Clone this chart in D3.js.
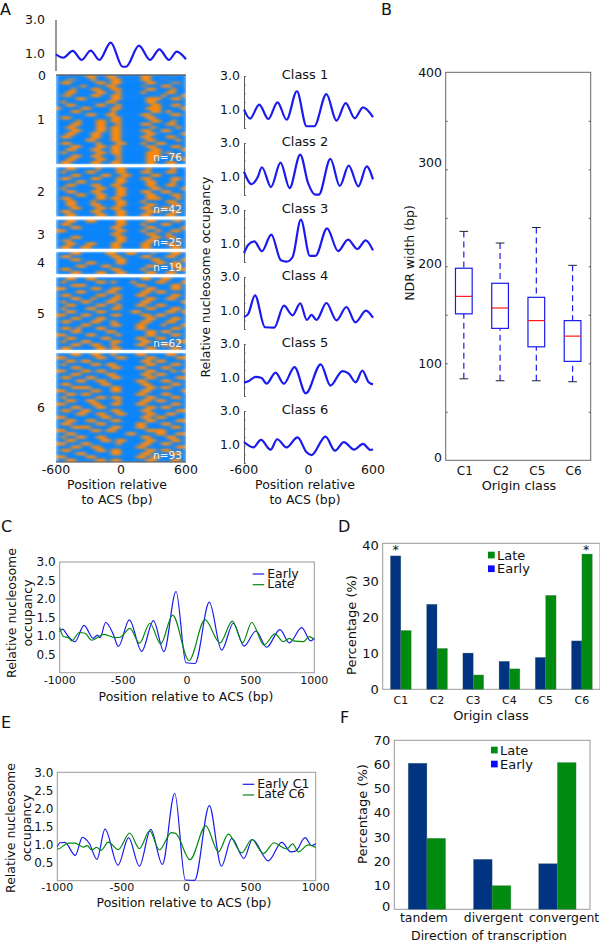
<!DOCTYPE html>
<html>
<head>
<meta charset="utf-8">
<script src="https://cdnjs.cloudflare.com/ajax/libs/d3/7.8.5/d3.min.js"></script>
<style>
  body { margin: 0; background: #fff; }
  text { font-family: "DejaVu Sans", sans-serif; fill: #111; }
</style>
</head>
<body>
<script>
// panel A, top average curve and the six class curves (position in bp, relative occupancy)
const topX = [-600,-532,-446,-363,-280,-200,-95,15,46,166,268,354,443,514,600];
const topY = [0.98,0.78,1.18,0.65,1.2,0.65,1.67,0.25,0.25,1.49,0.65,1.27,0.65,1.14,0.69];

const class1X = [-600,-544,-458,-374,-288,-204,-108,-18,53,167,260,346,430,507,600];
const class1Y = [1.06,0.54,1.35,0.52,1.48,0.48,2.12,0.1,0.1,1.96,0.42,1.44,0.56,1.19,0.63];
const class2X = [-600,-529,-473,-433,-349,-260,-176,-77,-3,63,96,204,291,374,464,541,600];
const class2Y = [1.35,0.62,1.02,1.6,0.46,1.87,0.4,2.33,0.67,0.02,0.02,2.08,0.52,1.69,0.5,1.65,0.9];
const class3X = [-600,-560,-504,-433,-346,-257,-204,-148,-71,13,65,173,275,368,455,532,600];
const class3Y = [0.52,1,1.19,0.62,1.58,0.1,0.02,0.29,2.44,0.35,0.35,1.94,0.63,1.29,0.75,1.25,0.67];
const class4X = [-600,-560,-498,-405,-319,-229,-148,-77,-15,28,74,167,260,353,436,535,600];
const class4Y = [0.69,0.88,1.94,0.1,0.08,1.35,0.79,1.48,0.52,0.81,0.52,1.5,0.5,1.27,0.38,1.06,0.65];
const class5X = [-600,-560,-492,-436,-390,-306,-229,-130,-25,114,204,315,374,439,501,560,600];
const class5Y = [0.77,0.85,1.1,1.04,0.71,1.35,0.71,1.67,0.15,1.83,0.6,1.44,1.29,0.79,1.46,0.79,0.67];
const class6X = [-600,-513,-442,-353,-291,-204,-102,-18,28,158,247,328,424,507,578,600];
const class6Y = [1.21,0.9,1.33,0.77,1.37,0.9,1.48,0.62,0.46,1.52,0.71,1.21,0.77,1.1,0.75,0.79];

// panel A heatmap, one string per row, one digit per column (0 = depleted, 4 = occupied)
const heat1 = [
"00000044003300000440000100","00220003001440000330011000","04400000440330000044000220",
"00001300004400000200033001","00030004400440000033000400","00440000330030000400004400",
"02400004400440000001040003","00003300000330000044300440","04000001004400000033000000",
"00330000330030000004400330","30000440000440000044400004","00044000000300000003303000",
"00000033004400000440000440","04400000000330000033000000","00004000440440000004400300",
"00044000440040000330004400","00440000330440000004000040","00044000440440000440033000",
"00340003300330000033000004","03300004400440000330004400","00000033000440000044000030",
"04400000300033000400330000","00033000440440000044000440","00440003300330000004400003",
"03000000440440000044403000","00033003300030000044400330","00440000440040000033000004",
"03300004400330000044004400"];
const heat2 = [
"00330000400044000040000300","04000044000033000330004400","00044000033004400004400000",
"03300004400044000440000330","00004400000033000033000400","00440003300440000044004400",
"04000000440033000003300003","00330004400044000440033000","00004400330033000033000440",
"03300000440440000044400030","00440004000033000400004400","00330003300044000044000330",
"00044000440440000330033000","03300004400033000044400440","00440000440044000330003300"];
const heat3 = [
"00330044000033000044000230","04400000000044000300033000","00033000000330000033000004",
"33000000000044000400300440","00000000000440000044003000","00044000000033000003304400",
"02300000000044000033000030","00440044000330000440003300","03300440000440000440000340"];
const heat4 = [
"00033000003300440002000440","03300000000440000330003300","00044000000033000004400003",
"00000044000033000000440330","00003300033000000033000440","04400000000440000300000033",
"00033000440033000044003300"];
const heat5 = [
"00330044000000000440033000","04000000330300030000440003","00044300000000004400000330",
"33000004400440000033000440","00003300003300000440330000","04400000440030003300000440",
"00033004000440000044003300","03000440003300000330000003","00440000330030003300440000",
"03000033000440000044000330","00330000440000033000003304","44000330000330000440330000",
"00044000330000000033000440","03300004400300000440004400","00000440000330004400030003",
"04403000330000003300000440","00033000004400000044033000","33000044000030000033000330",
"00440000033000004400440000","04000330000440000330000044","00033004400300003300033000",
"03300000440440000044000330"];
const heat6 = [
"00033004400300003300003300","33000000330044000044000044","00440330000000000330330000",
"04000004403300000044000330","00033000000440003300044000","33000440330000000033000303",
"00044000004400000440330000","04400033000330000044000044","00003300440000003300033000",
"03300000033000000440000330","00044330000440000033044000","44000004400330000330000003",
"00330440000000004400033000","03000000330440000033000440","00440033000030000440330000",
"33000004400440003300000330","00033000330000000044033000","04400330000440000330000044",
"00003300440033000044003300","33000000033000000330440000","00440044000440000033000033",
"03300000330000004400033000","00033440000330003300000440","44000003304400000044330000",
"00330000000000330000440033","03003300440000000330003300","00440000033044000044000440",
"33000440000030000330033000","00033004400000004400000033","04400000330440000033044000",
"00003300000330000440000330","33000044000000004403300000","00330000440330000033000440"];
const heatRows = [heat1, heat2, heat3, heat4, heat5, heat6];
const classN = [76, 42, 25, 19, 62, 93];

// panel B box plots
const boxCats = ["C1", "C2", "C5", "C6"];
const boxHigh = [236, 224, 240, 201];
const boxQ3 = [198, 182.5, 168, 144];
const boxMed = [169, 157, 144, 128];
const boxQ1 = [151, 136, 117, 102];
const boxLow = [84, 82, 82, 81];

// panel C
const cX1 = [-1000,-979,-932,-880,-809,-736,-704,-683,-639,-579,-539,-453,-356,-264,-181,-86,-8,63,175,272,364,448,542,626,730,804,901,971,1000];
const cEarly = [1.11,1.18,0.98,0.84,1.28,0.93,1.02,0.95,1.36,1.04,0.71,1.43,0.58,1.41,0.57,2.2,0.27,0.25,1.91,0.61,1.34,0.72,1.13,0.69,1.17,0.81,1.22,0.86,0.93];
const cX2 = [-1000,-971,-932,-906,-846,-801,-749,-652,-565,-526,-448,-374,-291,-207,-113,16,141,259,356,437,508,605,691,757,804,835,914,961,1000];
const cLate = [1.22,0.98,0.95,0.86,1.09,1.07,0.88,1.04,0.95,0.96,1.2,0.8,1.34,0.78,1.56,0.33,1.44,0.81,1.4,0.81,1.36,0.75,1.05,0.84,0.93,0.86,0.84,0.98,0.9];

// panel D
const dCats = ["C1", "C2", "C3", "C4", "C5", "C6"];
const dEarly = [37.2, 23.7, 10.1, 7.8, 8.9, 13.5];
const dLate = [16.4, 11.4, 4, 5.7, 26.2, 37.7];

// panel E
const eX1 = [-1000,-979,-941,-861,-806,-752,-693,-631,-530,-448,-365,-277,-187,-91,-9,63,177,270,350,445,510,634,737,807,845,918,969,1000];
const eEarly = [0.94,1.05,1.06,0.7,1.2,1.03,0.59,1.43,0.43,1.19,0.4,1.42,0.45,2.42,0.02,0.01,2.08,0.4,1.17,0.62,1.14,0.55,1.06,0.8,0.82,1.19,0.97,1.02];
const eX2 = [-1000,-979,-915,-863,-799,-768,-734,-695,-662,-605,-528,-440,-365,-285,-210,-117,-84,27,149,247,324,427,505,595,678,750,776,822,866,943,1000];
const eLate = [0.87,0.9,1.04,1.04,0.93,0.97,0.85,0.92,0.84,1.07,0.86,1.32,0.89,1.38,0.85,1.33,1.31,0.58,1.52,0.8,1.29,0.77,1.14,0.75,1.05,0.91,0.88,1.02,0.8,0.99,0.92];

// panel F
const fCats = ["tandem", "divergent", "convergent"];
const fEarly = [60.5, 20.7, 18.9];
const fLate = [29.4, 9.8, 60.8];

const BLUE = "#1a1aee";
const NAVY = "#003380";
const GREEN = "#008a10";

const svg = d3.select("body").append("svg")
    .attr("width", 600)
    .attr("height", 942);

function label(x, y, s, size, anchor, rotate) {
    const t = svg.append("text")
        .attr("x", x)
        .attr("y", y)
        .attr("dy", "0.36em")
        .attr("font-size", size)
        .attr("text-anchor", anchor || "middle")
        .text(s);
    if (rotate) t.attr("transform", `rotate(-90 ${x} ${y})`);
    return t;
}

function curve(x, y, xs, ys, color, width) {
    const line = d3.line()
        .x((d, i) => x(xs[i]))
        .y(d => y(d))
        .curve(d3.curveMonotoneX);
    svg.append("path")
        .attr("d", line(ys))
        .attr("fill", "none")
        .attr("stroke", color)
        .attr("stroke-width", width)
        .attr("stroke-linejoin", "round");
}

function frame(x0, x1, y0, y1, color) {
    svg.append("rect")
        .attr("x", x0).attr("y", y0)
        .attr("width", x1 - x0).attr("height", y1 - y0)
        .attr("fill", "none")
        .attr("stroke", color)
        .attr("stroke-width", 1);
}

function styleAxis(g, color) {
    g.selectAll(".domain").remove();
    g.selectAll("line").attr("stroke", color || "#555");
}

// panel letters
label(0, 9, "A", 16, "start");
label(381, 9, "B", 16, "start");
label(1, 526, "C", 16, "start");
label(338, 526, "D", 16, "start");
label(1, 722, "E", 16, "start");
label(340, 717, "F", 16, "start");

// ---- panel A, average curve ----
const xA = d3.scaleLinear().domain([-600, 600]).range([56, 186]);
const yTop = d3.scaleLinear().domain([0, 3]).range([71, 20]);

svg.append("line").attr("x1", 56).attr("x2", 56).attr("y1", 20).attr("y2", 71)
    .attr("stroke", "#777").attr("stroke-width", 1.5);
[3, 1].forEach(v => label(45, yTop(v) - 1, v.toFixed(1), 12.5, "end"));
curve(xA, yTop, topX, topY, BLUE, 2.2);

// ---- panel A, heatmap ----
const heatColor = d3.scaleLinear().domain([0, 1, 2, 3, 4])
    .range(["#0a84fa", "#2f86d8", "#8f8a7c", "#ff8a10", "#ff8804"]);
const heatTop = 75, heatBottom = 462;
const gapRows = 2.6;
const rowTotal = d3.sum(classN) + gapRows * (classN.length - 1);
const yHeat = d3.scaleLinear().domain([0, rowTotal]).range([heatTop, heatBottom]);
const colScale = d3.scaleBand().domain(d3.range(26)).range([xA(-600), xA(600)]);

const defs = svg.append("defs");
defs.append("filter").attr("id", "smear")
    .attr("color-interpolation-filters", "sRGB")
    .attr("x", "-2%").attr("y", "-2%").attr("width", "104%").attr("height", "104%")
    .append("feGaussianBlur").attr("stdDeviation", "2 0.8");
defs.append("clipPath").attr("id", "heatClip").append("rect")
    .attr("x", xA(-600)).attr("y", heatTop)
    .attr("width", xA(600) - xA(-600)).attr("height", heatBottom - heatTop);

const heatG = svg.append("g").attr("clip-path", "url(#heatClip)")
    .append("g").attr("filter", "url(#smear)");

let cum = 0;
const bands = [];
heatRows.forEach((rows, c) => {
    const start = cum;
    const end = cum + classN[c];
    const yRow = d3.scaleBand().domain(d3.range(rows.length)).range([yHeat(start), yHeat(end)]);
    rows.forEach((row, r) => {
        heatG.selectAll(null)
            .data(row.padEnd(26, "0").slice(0, 26).split(""))
            .enter()
            .append("rect")
                .attr("x", (d, j) => colScale(j))
                .attr("y", yRow(r))
                .attr("width", colScale.bandwidth() + 0.5)
                .attr("height", yRow.bandwidth() + 0.5)
                .attr("fill", d => heatColor(+d));
    });
    bands.push({ top: yHeat(start), bottom: yHeat(end) });
    cum = end + gapRows;
});

// white separators between classes, counts and class numbers
bands.forEach((b, i) => {
    if (i < bands.length - 1) {
        const next = bands[i + 1];
        svg.append("rect")
            .attr("x", xA(-600) - 1)
            .attr("y", (b.bottom + next.top) / 2 - 1.4)
            .attr("width", xA(600) - xA(-600) + 2)
            .attr("height", 2.8)
            .attr("fill", "#fff");
    }
    label(41, (b.top + b.bottom) / 2, String(i + 1), 12.5);
    label(182, b.bottom - 7, "n=" + classN[i], 10.5, "end").style("fill", "#f4f4f4");
});
label(42, heatTop, "0", 12.5);
svg.append("line").attr("x1", xA(-600)).attr("x2", xA(600)).attr("y1", heatTop).attr("y2", heatTop)
    .attr("stroke", "#222").attr("stroke-width", 1);
svg.append("line").attr("x1", xA(-600)).attr("x2", xA(600)).attr("y1", heatBottom).attr("y2", heatBottom)
    .attr("stroke", "#444").attr("stroke-width", 1);

[-600, 0, 600].forEach(v => label(xA(v), 469.5, String(v), 12.5));
label(117, 484, "Position relative", 12.5);
label(117, 499, "to ACS (bp)", 12.5);

// ---- panel A, class curves ----
const xClass = d3.scaleLinear().domain([-600, 600]).range([244, 373]);
const classCurves = [[class1X, class1Y], [class2X, class2Y], [class3X, class3Y], [class4X, class4Y], [class5X, class5Y], [class6X, class6Y]];
const classStep = 67;

classCurves.forEach((cc, i) => {
    const top = 76 + i * classStep;
    const y = d3.scaleLinear().domain([0, 3]).range([top + 52, top]);
    const axis = d3.axisLeft(y).tickValues(d3.range(0, 3.01, 0.5)).tickSize(-1.5).tickFormat("");
    const g = svg.append("g").attr("transform", `translate(${xClass(-600)},0)`).call(axis);
    g.selectAll("line").attr("stroke", "#555");
    g.select(".domain").attr("stroke", "#555").attr("stroke-width", 1);
    [3, 1].forEach(v => label(240, y(v) - 1, v.toFixed(1), 12.5, "end"));
    label(305, top - 2, "Class " + (i + 1), 13);
    curve(xClass, y, cc[0], cc[1], BLUE, 2.2);
});
[-600, 0, 600].forEach(v => label(xClass(v), 469.5, String(v), 12.5));
label(305, 484, "Position relative", 12.5);
label(305, 499, "to ACS (bp)", 12.5);
label(205, 277, "Relative nucleosome occupancy", 12.5, "middle", true);

// ---- panel B ----
const xBox = d3.scaleLinear().domain([0.5, 4.5]).range([445.7, 590.7]);
const yBox = d3.scaleLinear().domain([0, 400]).range([460.3, 72.3]);
frame(445.7, 590.7, 72.3, 460.3, "#666");

const bAxis = d3.axisLeft(yBox).tickValues(d3.range(50, 400, 50)).tickSize(-2).tickFormat("");
styleAxis(svg.append("g").attr("transform", "translate(445.7,0)").call(bAxis));
const bAxisR = d3.axisRight(yBox).tickValues(d3.range(50, 400, 50)).tickSize(-2).tickFormat("");
styleAxis(svg.append("g").attr("transform", "translate(590.7,0)").call(bAxisR));

const bLabelShift = { 400: 0, 300: -7, 200: -3, 100: 0, 0: -3 };
[400, 300, 200, 100, 0].forEach(v => label(442, yBox(v) + bLabelShift[v], String(v), 12.5, "end"));

boxCats.forEach((c, i) => {
    const cx = xBox(i + 1);
    const bw = 16.7, cap = 8.7;
    svg.append("line").attr("x1", cx).attr("x2", cx).attr("y1", yBox(boxHigh[i])).attr("y2", yBox(boxQ3[i]))
        .attr("stroke", BLUE).attr("stroke-width", 1.2).attr("stroke-dasharray", "6 4");
    svg.append("line").attr("x1", cx).attr("x2", cx).attr("y1", yBox(boxLow[i])).attr("y2", yBox(boxQ1[i]))
        .attr("stroke", BLUE).attr("stroke-width", 1.2).attr("stroke-dasharray", "6 4");
    [boxHigh[i], boxLow[i]].forEach(v => {
        svg.append("line").attr("x1", cx - cap / 2).attr("x2", cx + cap / 2).attr("y1", yBox(v)).attr("y2", yBox(v))
            .attr("stroke", "#223").attr("stroke-width", 1);
    });
    svg.append("rect")
        .attr("x", cx - bw / 2).attr("y", yBox(boxQ3[i]))
        .attr("width", bw).attr("height", yBox(boxQ1[i]) - yBox(boxQ3[i]))
        .attr("fill", "none").attr("stroke", BLUE).attr("stroke-width", 1.2);
    svg.append("line").attr("x1", cx - bw / 2).attr("x2", cx + bw / 2).attr("y1", yBox(boxMed[i])).attr("y2", yBox(boxMed[i]))
        .attr("stroke", "#ff1a1a").attr("stroke-width", 1.2);
    label(cx + 1, 471, c, 12);
});
label(519, 485, "Origin class", 12.8);
label(409, 253, "NDR width (bp)", 12.5, "middle", true);

// ---- panels C and E ----
function linePanel(p) {
    const x = d3.scaleLinear().domain([-1000, 1000]).range([p.x0, p.x1]);
    const y = d3.scaleLinear().domain([0, 3]).range([p.y1, p.y0]);
    frame(p.x0, p.x1, p.y0, p.y1, "#999");
    d3.range(0.5, 3.01, 0.5).forEach(v => label(p.x0 - 4, y(v), v.toFixed(1), 12, "end"));
    [-1000, -500, 0, 500, 1000].forEach(v => label(x(v), p.tickY, String(v), 11));
    label(p.xLabelX, p.xLabelY, "Position relative to ACS (bp)", 12.5);
    label(p.yl1, p.ylY, "Relative nucleosome", 12.5, "middle", true);
    label(p.yl2, p.ylY, "occupancy", 12.5, "middle", true);
    curve(x, y, p.x1s, p.y1s, BLUE, 1.2);
    curve(x, y, p.x2s, p.y2s, GREEN, 1.2);
    svg.append("line").attr("x1", p.legX).attr("x2", p.legX + 11.5).attr("y1", p.legY).attr("y2", p.legY)
        .attr("stroke", BLUE).attr("stroke-width", 1.2);
    svg.append("line").attr("x1", p.legX).attr("x2", p.legX + 11.5).attr("y1", p.legY + 10.7).attr("y2", p.legY + 10.7)
        .attr("stroke", GREEN).attr("stroke-width", 1.2);
    label(p.legX + 14.5, p.legY - 1, p.names[0], 12.5, "start");
    label(p.legX + 14.5, p.legY + 9.5, p.names[1], 12.5, "start");
}

linePanel({ x0: 59.7, x1: 314.3, y0: 562, y1: 672.7, tickY: 680, xLabelX: 186, xLabelY: 696, yl1: 11, yl2: 27, ylY: 613,
    x1s: cX1, y1s: cEarly, x2s: cX2, y2s: cLate, legX: 252.7, legY: 574, names: ["Early", "Late"] });
linePanel({ x0: 57.3, x1: 315.7, y0: 772.3, y1: 880.7, tickY: 887, xLabelX: 184, xLabelY: 902, yl1: 10.5, yl2: 26.5, ylY: 828,
    x1s: eX1, y1s: eEarly, x2s: eX2, y2s: eLate, legX: 242.7, legY: 784.3, names: ["Early C1", "Late C6"] });

// ---- panels D and F ----
function barPanel(p) {
    const x = d3.scaleBand().domain(p.cats).range([p.x0, p.x1]);
    const y = d3.scaleLinear().domain([0, p.maxV]).range([p.y1, p.y0]);
    frame(p.x0, p.x1, p.y0, p.y1, "#999");
    p.ticks.forEach(v => label(p.x0 - 4, y(v) + (v === 0 ? p.zeroShift : 0), String(v), 13, "end"));

    const drawBars = (vals, color, side) => {
        svg.append("g").selectAll("rect")
            .data(vals)
            .enter()
            .append("rect")
                .attr("x", (d, i) => x(p.cats[i]) + x.bandwidth() / 2 - (side ? 0 : p.bw))
                .attr("y", d => y(d))
                .attr("width", p.bw)
                .attr("height", d => y(0) - y(d))
                .attr("fill", color)
                .attr("stroke", "#5a7a6a")
                .attr("stroke-opacity", 0.45)
                .attr("stroke-width", 0.6);
    };
    drawBars(p.early, NAVY, 0);
    drawBars(p.late, GREEN, 1);

    p.cats.forEach((c, i) => label(x(c) + x.bandwidth() / 2 + p.catShift[i], p.catY, c, p.catSize));
    label(p.xLabelX, p.xLabelY, p.xLabel, p.xLabelSize);
    label(p.ylX, p.ylY, "Percentage (%)", 13, "middle", true);

    svg.append("rect").attr("x", p.legX).attr("y", p.legY - 3.3).attr("width", 6.7).attr("height", 6.7).attr("fill", GREEN);
    svg.append("rect").attr("x", p.legX).attr("y", p.legY + p.legStep - 3.3).attr("width", 6.7).attr("height", 6.7).attr("fill", "#0a0aff");
    label(p.legX + 9, p.legY, "Late", 13, "start");
    label(p.legX + 9, p.legY + p.legStep, "Early", 13, "start");
}

barPanel({ cats: dCats, early: dEarly, late: dLate, x0: 382.7, x1: 600, y0: 543.3, y1: 689.3, maxV: 40.7,
    ticks: [0, 10, 20, 30, 40], zeroShift: 0, bw: 10.4, catShift: [0, 0, 0, 0, 0, 0], catY: 700, catSize: 11,
    xLabel: "Origin class", xLabelSize: 13, xLabelX: 491, xLabelY: 715, ylX: 351.7, ylY: 625, legX: 488, legY: 555, legStep: 13.7 });
label(395.7, 549, "*", 12.5);
label(586, 549, "*", 12.5);

barPanel({ cats: fCats, early: fEarly, late: fLate, x0: 394.3, x1: 590, y0: 740.3, y1: 909.3, maxV: 70,
    ticks: [0, 10, 20, 30, 40, 50, 60, 70], zeroShift: -3, bw: 18.7, catShift: [-3, 1.3, 6.7], catY: 918, catSize: 12.4,
    xLabel: "Direction of transcription", xLabelSize: 12.5, xLabelX: 489, xLabelY: 935, ylX: 362.7, ylY: 814, legX: 491, legY: 750, legStep: 14 });
</script>
</body>
</html>
